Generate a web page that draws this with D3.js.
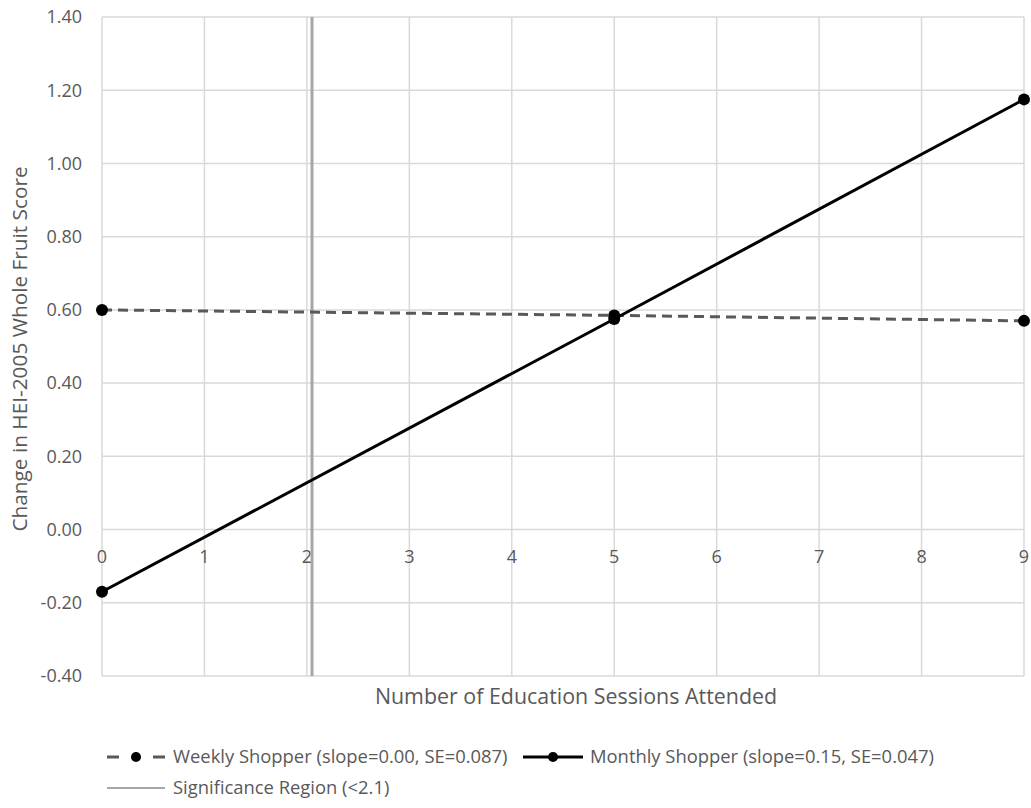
<!DOCTYPE html>
<html>
<head>
<meta charset="utf-8">
<script src="https://cdn.jsdelivr.net/npm/d3@7"></script>
<style>
  body { margin: 0; background: #fff; }
  text { font-family: "Open Sans", "Noto Sans", sans-serif; fill: #595959; }
</style>
</head>
<body>
<script>
// data
var sessions = [0, 5, 9]
var weekly = [0.60, 0.585, 0.57]
var monthly = [-0.17, 0.575, 1.175]
var xTicks = [0, 1, 2, 3, 4, 5, 6, 7, 8, 9]
var yTicks = [-0.4, -0.2, 0, 0.2, 0.4, 0.6, 0.8, 1.0, 1.2, 1.4]
var sigCut = 2.05
var legendLabels = ['Weekly Shopper (slope=0.00, SE=0.087)', 'Monthly Shopper (slope=0.15, SE=0.047)', 'Significance Region (<2.1)']

var width = 1031, height = 808
var margin = {left: 102, right: 7, top: 17, bottom: 132}

var svg = d3.select('body').append('svg').attr('width', width).attr('height', height)

var x = d3.scaleLinear().domain([0, 9]).range([margin.left, width - margin.right])
var y = d3.scaleLinear().domain([-0.4, 1.4]).range([height - margin.bottom, margin.top])

var fmt = d => d3.format('.2f')(d).replace('−', '-')

// gridlines
svg.append('g').selectAll('line').data(yTicks).join('line')
    .attr('x1', x(0)).attr('x2', x(9))
    .attr('y1', d => y(d)).attr('y2', d => y(d))
    .attr('stroke', '#d9d9d9').attr('stroke-width', 1.5)
svg.append('g').selectAll('line').data(xTicks).join('line')
    .attr('x1', d => x(d)).attr('x2', d => x(d))
    .attr('y1', y(-0.4)).attr('y2', y(1.4))
    .attr('stroke', '#d9d9d9').attr('stroke-width', 1.5)

// y labels
svg.append('g').selectAll('text').data(yTicks).join('text')
    .attr('x', 82).attr('y', d => y(d)).attr('dy', '0.35em')
    .attr('text-anchor', 'end').style('font-size', '18px')
    .text(fmt)

// x labels sit under the zero line
svg.append('g').selectAll('text').data(xTicks).join('text')
    .attr('x', d => x(d)).attr('y', y(0) + 27)
    .attr('dy', '0.35em')
    .attr('text-anchor', 'middle').style('font-size', '18px')
    .text(d => d)

// significance line
svg.append('line')
    .attr('x1', x(sigCut)).attr('x2', x(sigCut))
    .attr('y1', y(1.4)).attr('y2', y(-0.4))
    .attr('stroke', '#a6a6a6').attr('stroke-width', 3)

var line = d3.line().x((d, i) => x(sessions[i])).y(d => y(d))

svg.append('path').attr('d', line(weekly))
    .attr('fill', 'none').attr('stroke', '#595959').attr('stroke-width', 3)
    .attr('stroke-dasharray', '10,6')
svg.append('path').attr('d', line(monthly))
    .attr('fill', 'none').attr('stroke', '#000').attr('stroke-width', 3)

svg.append('g').selectAll('circle').data(weekly).join('circle')
    .attr('cx', (d, i) => x(sessions[i])).attr('cy', d => y(d)).attr('r', 6).attr('fill', '#000')
svg.append('g').selectAll('circle').data(monthly).join('circle')
    .attr('cx', (d, i) => x(sessions[i])).attr('cy', d => y(d)).attr('r', 6).attr('fill', '#000')

// axis titles
svg.append('text')
    .attr('transform', 'translate(20, 349) rotate(-90)')
    .attr('dy', '0.35em').attr('text-anchor', 'middle').style('font-size', '20.8px')
    .text('Change in HEI-2005 Whole Fruit Score')
svg.append('text')
    .attr('x', 576).attr('y', 697).attr('dy', '0.35em')
    .attr('text-anchor', 'middle').style('font-size', '21.4px')
    .text('Number of Education Sessions Attended')

// legend
var lg = svg.append('g')
// weekly
lg.append('line').attr('x1', 107).attr('x2', 166).attr('y1', 757).attr('y2', 757)
    .attr('stroke', '#595959').attr('stroke-width', 3).attr('stroke-dasharray', '12,34')
lg.append('circle').attr('cx', 136).attr('cy', 757).attr('r', 5).attr('fill', '#000')
lg.append('text').attr('x', 173).attr('y', 757).attr('dy', '0.35em').style('font-size', '18.4px').text(legendLabels[0])
// monthly
lg.append('line').attr('x1', 523).attr('x2', 583).attr('y1', 757).attr('y2', 757)
    .attr('stroke', '#000').attr('stroke-width', 3)
lg.append('circle').attr('cx', 553).attr('cy', 757).attr('r', 5).attr('fill', '#000')
lg.append('text').attr('x', 590).attr('y', 757).attr('dy', '0.35em').style('font-size', '18.4px').text(legendLabels[1])
// significance
lg.append('line').attr('x1', 107).attr('x2', 165).attr('y1', 788).attr('y2', 788)
    .attr('stroke', '#a6a6a6').attr('stroke-width', 2)
lg.append('text').attr('x', 173).attr('y', 788).attr('dy', '0.35em').style('font-size', '18.4px').text(legendLabels[2])
</script>
</body>
</html>
